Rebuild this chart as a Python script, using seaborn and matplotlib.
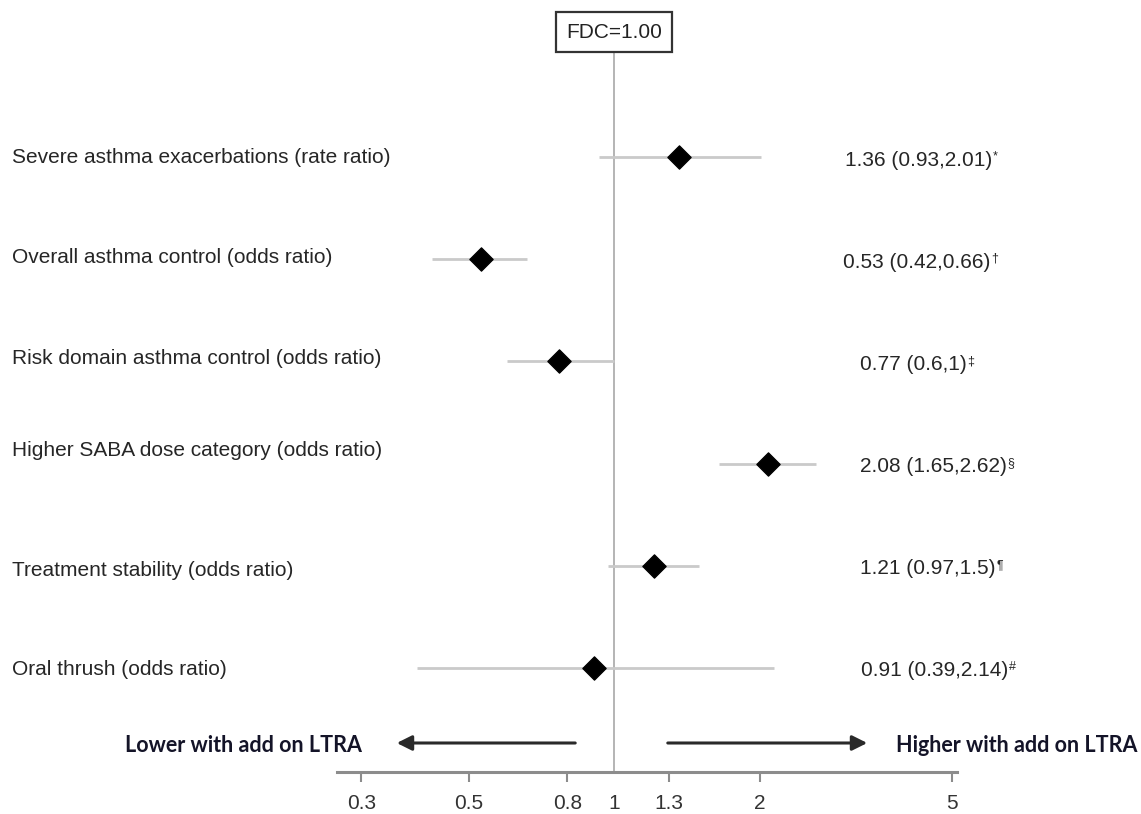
import matplotlib
matplotlib.use("Agg")
import matplotlib.pyplot as plt
import seaborn as sns
import numpy as np
import pandas as pd

outcomes = [
    "Severe asthma exacerbations (rate ratio)",
    "Overall asthma control (odds ratio)",
    "Risk domain asthma control (odds ratio)",
    "Higher SABA dose category (odds ratio)",
    "Treatment stability (odds ratio)",
    "Oral thrush (odds ratio)",
]
estimate = [1.36, 0.53, 0.77, 2.08, 1.21, 0.91]
ci_low = [0.93, 0.42, 0.6, 1.65, 0.97, 0.39]
ci_high = [2.01, 0.66, 1.0, 2.62, 1.5, 2.14]
value_labels = ["1.36 (0.93,2.01)", "0.53 (0.42,0.66)", "0.77 (0.6,1)",
                "2.08 (1.65,2.62)", "1.21 (0.97,1.5)", "0.91 (0.39,2.14)"]
footnote_marks = ["*", "\u2020", "\u2021", "\u00a7", "\u00b6", "#"]
tick_values = [0.3, 0.5, 0.8, 1, 1.3, 2, 5]
tick_labels = ["0.3", "0.5", "0.8", "1", "1.3", "2", "5"]
reference_label = "FDC=1.00"
left_note = "Lower with add on LTRA"
right_note = "Higher with add on LTRA"

df = pd.DataFrame({"outcome": outcomes, "row": np.arange(len(outcomes)),
                   "est": estimate, "lo": ci_low, "hi": ci_high})

sns.set_theme(style="white")
plt.rcParams["font.family"] = ["Liberation Sans", "DejaVu Sans"]

W, H = 1141, 814
fig = plt.figure(figsize=(W / 100, H / 100), dpi=100)
ax = fig.add_axes([337 / W, 1 - 772 / H, (957 - 337) / W, (772 - 50) / H])

ax.set_xscale("log")
ax.set_xlim(0.267, 5.12)
ax.set_ylim(6.02, -1.05)

# reference line
ax.axvline(1, color="#a8a8a8", lw=1.2, zorder=1)
# CIs
ax.hlines(df["row"], df["lo"], df["hi"], color="#cacaca", lw=2, zorder=2)
sns.scatterplot(data=df, x="est", y="row", marker="D", s=140, color="black",
                edgecolor="black", ax=ax, zorder=3, legend=False)

# spines
for s in ["top", "right", "left"]:
    ax.spines[s].set_visible(False)
ax.spines["bottom"].set_color("#8c8c8c")
ax.spines["bottom"].set_linewidth(2.2)

ax.set_xticks(tick_values)
ax.set_xticklabels(tick_labels)
ax.xaxis.set_minor_locator(matplotlib.ticker.NullLocator())
ax.tick_params(axis="x", which="major", direction="out", length=7, width=1.5,
               color="#8c8c8c", labelsize=15, labelcolor="#333333", pad=9,
               bottom=True)
for i, t in enumerate(ax.xaxis.get_major_ticks()):
    if tick_values[i] == 1:
        t.tick1line.set_visible(False)
ax.set_yticks([])
ax.set_xlabel("")
ax.set_ylabel("")

blend = matplotlib.transforms.blended_transform_factory(fig.transFigure, ax.transData)
label_offsets = [0.0, -0.02, -0.03, -0.13, 0.05, 0.02]
for r, lab, off in zip(df["row"], outcomes, label_offsets):
    ax.text(12 / W, r + off, lab, transform=blend, ha="left", va="center",
            fontsize=15, color="#262626", clip_on=False)

# right values
value_x = [845, 843, 860, 860, 860, 861]
for r, lab, mk, vx in zip(df["row"], value_labels, footnote_marks, value_x):
    t = ax.text(vx / W, r + 0.03, lab, transform=blend, ha="left", va="center",
                fontsize=15, color="#262626", clip_on=False)
    ax.annotate(mk, xy=(1.0, 1.0), xycoords=t, xytext=(0.5, 0),
                textcoords="offset points", ha="left", va="top",
                fontsize=9, color="#262626", annotation_clip=False)

# reference box
fig.text(614 / W, 1 - 32 / H, reference_label, ha="center", va="center",
         fontsize=15, color="#222222",
         bbox=dict(boxstyle="square,pad=0.5", fc="white", ec="#333333", lw=1.6))

# direction notes
fig.text(125 / W, 1 - 745 / H, left_note, ha="left", va="center",
         fontsize=15.5, fontweight="bold", family="Lato", color="#141428")
fig.text(1137 / W, 1 - 745 / H, right_note, ha="right", va="center",
         fontsize=15.5, fontweight="bold", family="Lato", color="#141428")
fig.patches.append(matplotlib.patches.FancyArrowPatch(
    (578 / W, 1 - 743 / H), (394 / W, 1 - 743 / H), transform=fig.transFigure,
    arrowstyle="-|>,head_length=9,head_width=4.5", mutation_scale=1, lw=2.2, color="#2a2a2a"))
fig.patches.append(matplotlib.patches.FancyArrowPatch(
    (665 / W, 1 - 743 / H), (870 / W, 1 - 743 / H), transform=fig.transFigure,
    arrowstyle="-|>,head_length=9,head_width=4.5", mutation_scale=1, lw=2.2, color="#2a2a2a"))

fig.savefig("out.png", dpi=100)
